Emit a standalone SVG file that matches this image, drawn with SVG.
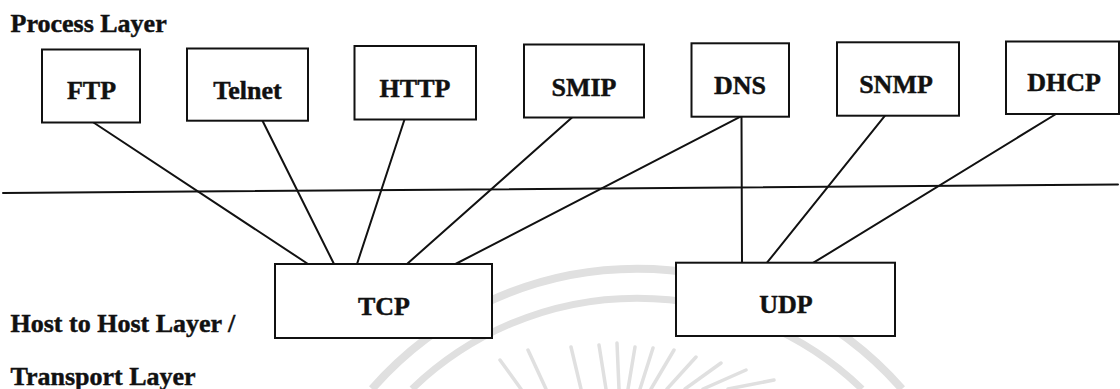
<svg xmlns="http://www.w3.org/2000/svg" width="1120" height="389" viewBox="0 0 1120 389">
  <style>
    .box { fill: #ffffff; stroke: #111111; stroke-width: 2; }
    .lbl { font-family: "Liberation Serif", "Times New Roman", serif; font-weight: bold; font-size: 26px; fill: #111111; stroke: #111111; stroke-width: 0.45; }
    .mid { text-anchor: middle; }
    .wire { stroke: #111111; stroke-width: 2; fill: none; stroke-linecap: round; }
    .seal { stroke: #e0e0e0; fill: none; }
  </style>

  <rect x="0" y="0" width="1120" height="389" fill="#ffffff"/>

  <!-- faint seal in the background -->
  <g id="seal" class="seal">
    <path d="M 372 389 A 352 352 0 0 1 902 389" stroke-width="8"/>
    <path d="M 412 389 A 324 324 0 0 1 862 389" stroke-width="7"/>
    <g stroke-width="3.5" stroke-linecap="round">
      <line x1="500" y1="360" x2="521" y2="389"/>
      <line x1="528" y1="350" x2="546" y2="389"/>
      <line x1="571" y1="347" x2="581" y2="389"/>
      <line x1="599" y1="345" x2="606" y2="389"/>
      <line x1="617" y1="343" x2="619" y2="389"/>
      <line x1="635" y1="347" x2="628" y2="389"/>
      <line x1="653" y1="348" x2="640" y2="389"/>
      <line x1="674" y1="350" x2="651" y2="389"/>
      <line x1="696" y1="357" x2="667" y2="389"/>
      <line x1="721" y1="363" x2="685" y2="389"/>
      <line x1="746" y1="370" x2="703" y2="389"/>
      <line x1="774" y1="380" x2="728" y2="389"/>
    </g>
  </g>

  <!-- layer captions -->
  <g id="layer-labels" class="lbl">
    <text x="10.5" y="31.5">Process Layer</text>
    <text x="10.5" y="331.5">Host to Host Layer /</text>
    <text x="10.5" y="385">Transport Layer</text>
  </g>

  <!-- boundary between the two layers -->
  <g id="layer-divider">
    <line class="wire" x1="3" y1="193" x2="1118" y2="184.5"/>
  </g>

  <!-- application protocols to transport protocols -->
  <g id="connectors" class="wire">
    <line x1="93.5" y1="122.5" x2="308" y2="264"/>
    <line x1="262.5" y1="120.7" x2="334" y2="264"/>
    <line x1="404.5" y1="119.5" x2="357" y2="264"/>
    <line x1="572" y1="117.5" x2="407" y2="264"/>
    <line x1="740.5" y1="116.7" x2="455.5" y2="264"/>
    <line x1="741.5" y1="116.7" x2="742" y2="262.7"/>
    <line x1="885" y1="115.7" x2="767" y2="262.7"/>
    <line x1="1056" y1="114" x2="813.5" y2="262.7"/>
  </g>

  <g id="ftp">
    <rect class="box" x="42" y="49.5" width="98" height="73"/>
    <text class="lbl mid" x="91.5" y="99">FTP</text>
  </g>
  <g id="telnet">
    <rect class="box" x="187" y="48.5" width="121" height="72.2"/>
    <text class="lbl mid" x="247.5" y="98.5">Telnet</text>
  </g>
  <g id="http">
    <rect class="box" x="354.5" y="46" width="121.5" height="73.5"/>
    <text class="lbl mid" x="415" y="97">HTTP</text>
  </g>
  <g id="smip">
    <rect class="box" x="524" y="44.5" width="120" height="73"/>
    <text class="lbl mid" x="584" y="95.5">SMIP</text>
  </g>
  <g id="dns">
    <rect class="box" x="691.5" y="43.3" width="97.5" height="73.4"/>
    <text class="lbl mid" x="740" y="93.5">DNS</text>
  </g>
  <g id="snmp">
    <rect class="box" x="837" y="42.3" width="122" height="73.4"/>
    <text class="lbl mid" x="896" y="93">SNMP</text>
  </g>
  <g id="dhcp">
    <rect class="box" x="1006" y="41.5" width="113" height="72.5"/>
    <text class="lbl mid" x="1064" y="91">DHCP</text>
  </g>
  <g id="tcp">
    <rect class="box" x="275" y="264" width="217" height="74"/>
    <text class="lbl mid" x="384" y="315">TCP</text>
  </g>
  <g id="udp">
    <rect class="box" x="676" y="262.7" width="219" height="73.3"/>
    <text class="lbl mid" x="786" y="313">UDP</text>
  </g>
</svg>
